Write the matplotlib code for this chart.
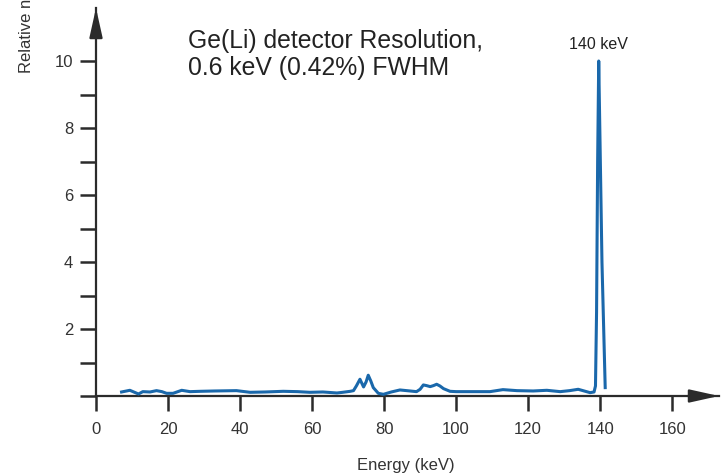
import matplotlib
matplotlib.use("Agg")
import matplotlib.pyplot as plt

plt.rcParams['font.family'] = ['Liberation Sans', 'DejaVu Sans']

# Spectrum data (energy in keV, relative counts)
energy = [7.1, 9.4, 11.8, 13.0, 15.0, 16.8, 18.3, 19.6, 21.4, 23.8, 26.1, 29.0, 33.0,
          39.0, 42.8, 47.0, 52.0, 56.0, 59.4, 63.0, 66.9, 68.5, 70.6, 71.5, 72.3,
          73.3, 74.3, 75.0, 75.6, 76.3, 77.0, 78.4, 79.8, 82.0, 84.4, 87.2, 89.0,
          90.0, 90.9, 91.8, 92.8, 93.7, 94.6, 95.5, 96.5, 98.3, 100.0, 105.0, 109.4,
          113.0, 116.9, 121.4, 125.2, 128.9, 131.5, 133.9, 137.2, 138.3, 138.7,
          139.0, 139.3, 139.6, 139.9, 140.5, 141.4]
counts = [0.12, 0.17, 0.06, 0.13, 0.12, 0.16, 0.13, 0.08, 0.08, 0.17, 0.13, 0.14, 0.15,
          0.16, 0.11, 0.12, 0.14, 0.13, 0.11, 0.12, 0.09, 0.11, 0.14, 0.16, 0.30,
          0.50, 0.27, 0.42, 0.62, 0.45, 0.25, 0.08, 0.05, 0.12, 0.18, 0.15, 0.13,
          0.20, 0.33, 0.31, 0.28, 0.31, 0.35, 0.30, 0.22, 0.14, 0.13, 0.13, 0.13,
          0.19, 0.16, 0.15, 0.17, 0.13, 0.16, 0.20, 0.10, 0.12, 0.30,
          2.5, 7.0, 10.0, 8.0, 4.0, 0.25]

x_ticks = [0, 20, 40, 60, 80, 100, 120, 140, 160]
y_major = [2, 4, 6, 8, 10]
y_minor = [0, 1, 3, 5, 7, 9]

axis_col = '#2b2b2b'
line_col = '#1a68ab'

fig = plt.figure(figsize=(7.24, 4.73), dpi=100)
ax = fig.add_axes([96/724, 1 - 396/473, 623/724, 388/473])
ax.set_xlim(0, 173)
ax.set_ylim(0, 388/33.5)

ax.plot(energy, counts, color=line_col, lw=2.2, zorder=5, solid_joinstyle='round')

for s in ['top', 'right']:
    ax.spines[s].set_visible(False)
for s in ['left', 'bottom']:
    ax.spines[s].set_color(axis_col)
    ax.spines[s].set_linewidth(1.6)

ax.set_xticks(x_ticks)
ax.set_xticklabels([str(v) for v in x_ticks])
ax.set_yticks(y_major)
ax.set_yticklabels([str(v) for v in y_major])
ax.set_yticks(y_minor, minor=True)
ax.tick_params(axis='x', direction='out', length=11, width=1.8, color=axis_col,
               labelsize=12, labelcolor='#333333', pad=7.5)
ax.tick_params(axis='y', which='both', direction='out', length=11.5, width=1.8,
               color=axis_col, labelsize=12, labelcolor='#333333', pad=5)

# Arrow heads
ax.annotate('', xy=(1.0, 0), xytext=(0.95, 0), xycoords='axes fraction',
            arrowprops=dict(arrowstyle='-|>,head_length=0.9,head_width=0.2',
                            mutation_scale=20, color=axis_col, lw=1.6,
                            shrinkA=0, shrinkB=0), annotation_clip=False)
ax.annotate('', xy=(0, 1.0), xytext=(0, 0.95), xycoords='axes fraction',
            arrowprops=dict(arrowstyle='-|>,head_length=0.9,head_width=0.2',
                            mutation_scale=20, color=axis_col, lw=1.6,
                            shrinkA=0, shrinkB=0), annotation_clip=False)

ax.text(25.6, 10.95, "Ge(Li) detector Resolution,\n0.6 keV (0.42%) FWHM",
        fontsize=17.8, color='#222222', ha='left', va='top', linespacing=1.15)
ax.text(139.6, 10.5, "140 keV", fontsize=11.5, color='#222222', ha='center', va='center')

ax.set_xlabel("Energy (keV)", fontsize=12, color='#333333')
ax.xaxis.set_label_coords(86/173, -0.16)
fig.text(27/724, 1 - 73/473, "Relative number of counts", rotation=90,
         fontsize=12, color='#333333', ha='center', va='bottom')

fig.savefig("out.png", dpi=100)
